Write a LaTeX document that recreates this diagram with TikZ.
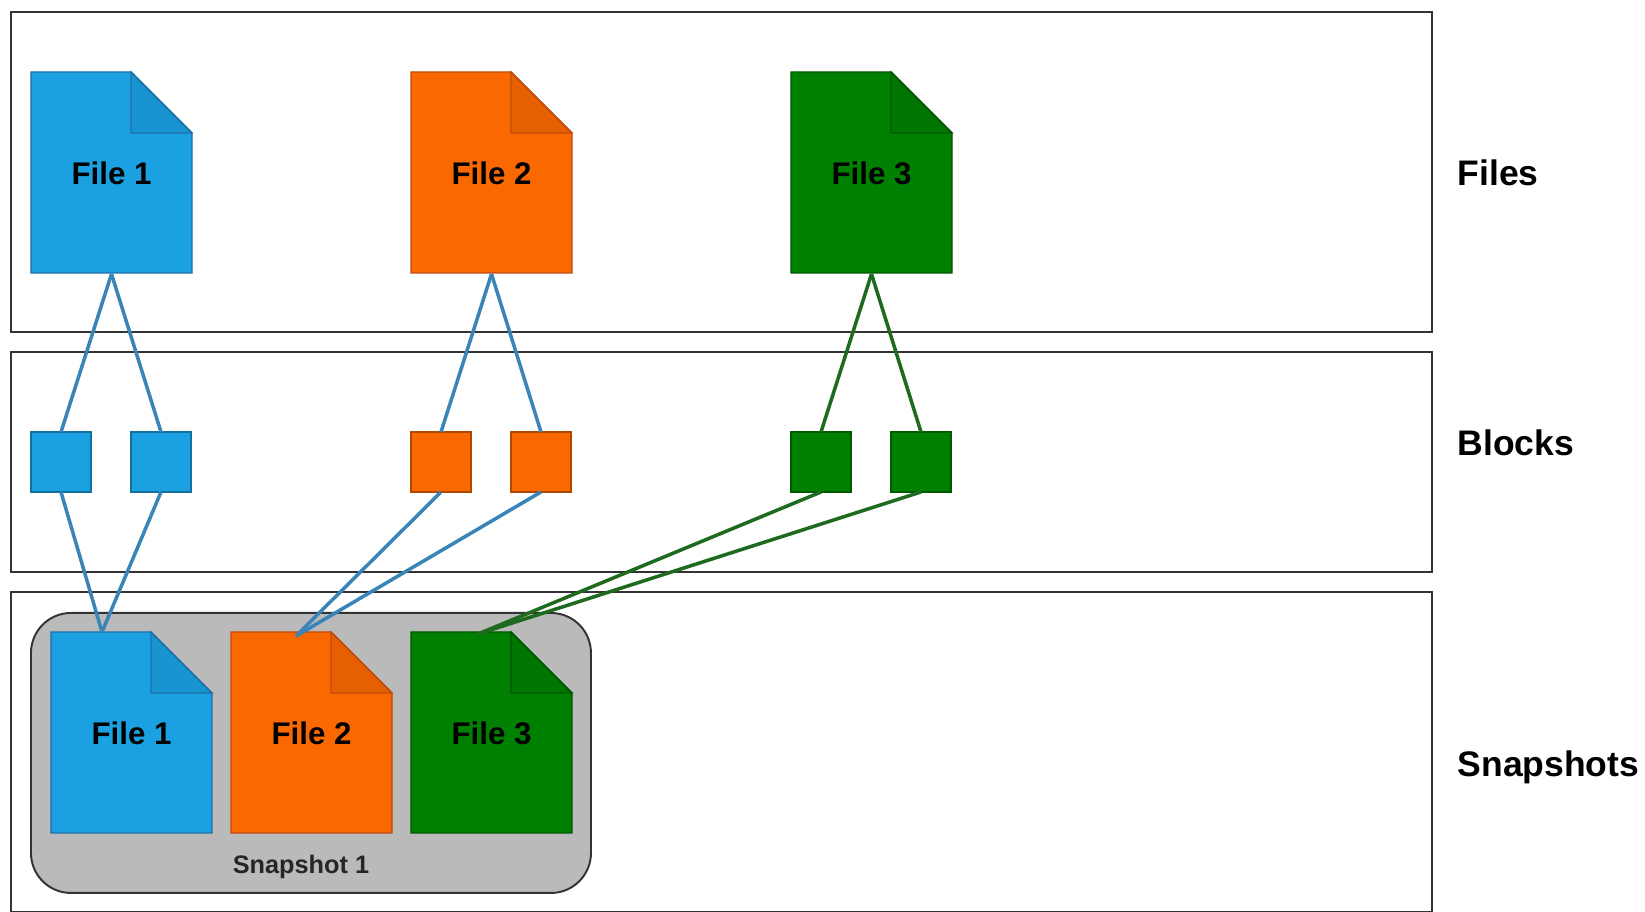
\documentclass[tikz,border=0pt]{standalone}
\usepackage{fontspec}
\setmainfont{Liberation Sans}
\usepackage{xcolor}
\usetikzlibrary{positioning}

\definecolor{fileblue}{HTML}{1BA1E2}
\definecolor{edgeblue}{HTML}{1F6FA8}
\definecolor{fileorange}{HTML}{FA6800}
\definecolor{edgeorange}{HTML}{C04A10}
\definecolor{filegreen}{HTML}{008000}
\definecolor{edgegreen}{HTML}{005700}
\definecolor{lineblue}{HTML}{3A84B8}
\definecolor{linegreen}{HTML}{1E6A1E}

\tikzset{
    band/.style={draw=black!80, line width=0.55pt, inner sep=0, outer sep=0, anchor=north west},
    block/.style={draw=#1!70!black, fill=#1, line width=0.4pt, minimum size=0.6cm, inner sep=0, outer sep=0},
    filetag/.style={minimum width=1.61cm, minimum height=2.01cm, inner sep=0, outer sep=0, font=\fontsize{8.9}{11}\selectfont\bfseries},
    sidetag/.style={anchor=west, inner sep=0, font=\fontsize{10.1}{12}\selectfont\bfseries},
    wire/.style={line width=1pt}
}

% #1 node name, #2 left, #3 top, #4 colour, #5 edge colour, #6 label
\newcommand{\docfile}[6]{
    \draw[draw=#5, fill=#4, line width=0.4pt] (#2, #3) -- ++(1.0, 0) -- ++(0.61, -0.61) -- ++(0, -1.40) -- ++(-1.61, 0) -- cycle;
    \draw[draw=#5, fill=black, fill opacity=0.08, line width=0.3pt] (#2+1.0, #3) -- ++(0.61, -0.61) -- ++(-0.61, 0) -- cycle;
    \node[filetag] (#1) at (#2+0.805, #3-1.015) {#6};
}

\begin{document}
\begin{tikzpicture}
    \useasboundingbox (0, 0) rectangle (16.45, 9.12);

    % Three bands
    \node[band, minimum width=14.21cm, minimum height=3.2cm] (filesband) at (0.11, 9) {};
    \node[band, minimum width=14.21cm, minimum height=2.2cm] (blocksband) at (0.11, 5.6) {};
    \node[band, minimum width=14.21cm, minimum height=3.2cm] (snapband) at (0.11, 3.2) {};

    % Band labels
    \node[sidetag] (filesname) at (14.57, 7.39) {Files};
    \node[sidetag] (blocksname) at (14.57, 4.69) {Blocks};
    \node[sidetag] (snapname) at (14.57, 1.45) {Snapshots};

    % Snapshot group
    \node[draw=black!80, fill=black!27, line width=0.55pt, rounded corners=0.4cm, minimum width=5.6cm, minimum height=2.8cm, inner sep=0, anchor=north west] (snapgroup) at (0.30, 3.00) {};
    \node[inner sep=0, text=black!85, font=\fontsize{7.2}{9}\selectfont\bfseries] (snapname1) at (3.01, 0.45) {Snapshot 1};

    % Top row of files
    \docfile{fileA}{0.31}{8.40}{fileblue}{edgeblue}{File 1}
    \docfile{fileB}{4.11}{8.40}{fileorange}{edgeorange}{File 2}
    \docfile{fileC}{7.91}{8.40}{filegreen}{edgegreen}{File 3}

    % Files inside the snapshot
    \docfile{snapA}{0.51}{2.80}{fileblue}{edgeblue}{File 1}
    \docfile{snapB}{2.31}{2.80}{fileorange}{edgeorange}{File 2}
    \docfile{snapC}{4.11}{2.80}{filegreen}{edgegreen}{File 3}

    % Blocks
    \node[block=fileblue] (blockA1) at (0.61, 4.50) {};
    \node[block=fileblue] (blockA2) at (1.61, 4.50) {};
    \node[block=fileorange] (blockB1) at (4.41, 4.50) {};
    \node[block=fileorange] (blockB2) at (5.41, 4.50) {};
    \node[block=filegreen] (blockC1) at (8.21, 4.50) {};
    \node[block=filegreen] (blockC2) at (9.21, 4.50) {};

    % Where the wires land
    \coordinate (landA) at (1.02, 2.80);
    \coordinate (landB) at (2.96, 2.76);
    \coordinate (landC) at (4.78, 2.78);

    % Wires
    \draw[wire, lineblue] (fileA.south) -- (blockA1.north);
    \draw[wire, lineblue] (fileA.south) -- (blockA2.north);
    \draw[wire, lineblue] (fileB.south) -- (blockB1.north);
    \draw[wire, lineblue] (fileB.south) -- (blockB2.north);
    \draw[wire, linegreen] (fileC.south) -- (blockC1.north);
    \draw[wire, linegreen] (fileC.south) -- (blockC2.north);

    \draw[wire, lineblue] (blockA1.south) -- (landA);
    \draw[wire, lineblue] (blockA2.south) -- (landA);
    \draw[wire, lineblue] (blockB1.south) -- (landB);
    \draw[wire, lineblue] (blockB2.south) -- (landB);
    \draw[wire, linegreen] (blockC1.south) -- (landC);
    \draw[wire, linegreen] (blockC2.south) -- (landC);
\end{tikzpicture}
\end{document}
